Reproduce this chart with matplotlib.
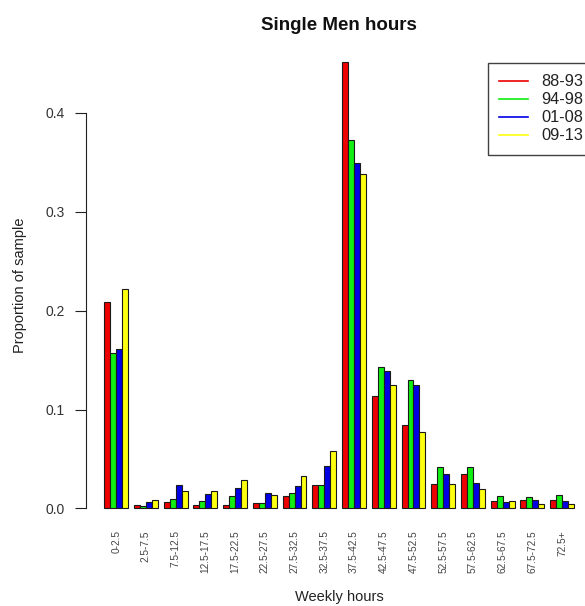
import matplotlib
matplotlib.use("Agg")
import matplotlib.pyplot as plt
from matplotlib.lines import Line2D

plt.rcParams['font.family'] = ['Liberation Sans', 'DejaVu Sans']

# Hour bands and sample proportions per period
categories = ["0-2.5", "2.5-7.5", "7.5-12.5", "12.5-17.5", "17.5-22.5", "22.5-27.5",
              "27.5-32.5", "32.5-37.5", "37.5-42.5", "42.5-47.5", "47.5-52.5",
              "52.5-57.5", "57.5-62.5", "62.5-67.5", "67.5-72.5", "72.5+"]
periods = ["88-93", "94-98", "01-08", "09-13"]
p88_93 = [0.209, 0.003, 0.007, 0.004, 0.004, 0.006, 0.013, 0.024, 0.451, 0.114, 0.084,
          0.025, 0.035, 0.008, 0.009, 0.009]
p94_98 = [0.157, 0.002, 0.010, 0.008, 0.013, 0.006, 0.016, 0.024, 0.373, 0.143, 0.130,
          0.042, 0.042, 0.013, 0.012, 0.014]
p01_08 = [0.161, 0.007, 0.024, 0.015, 0.021, 0.016, 0.023, 0.043, 0.349, 0.139, 0.125,
          0.035, 0.026, 0.007, 0.009, 0.008]
p09_13 = [0.222, 0.009, 0.018, 0.018, 0.029, 0.014, 0.033, 0.058, 0.338, 0.125, 0.077,
          0.025, 0.020, 0.008, 0.005, 0.005]
yticks = [0.0, 0.1, 0.2, 0.3, 0.4]

series = [p88_93, p94_98, p01_08, p09_13]
colors = ["#EE0000", "#11EE11", "#0000E6", "#FFFF10"]

W, H = 585, 606
fig = plt.figure(figsize=(W / 100, H / 100), dpi=100)
fig.patch.set_facecolor("white")

# plotting region in pixels (left, right, top, bottom)
pl, pr, pt, pb = 85.5, 592.8, 44.6, 526.3
ax = fig.add_axes([pl / W, (H - pb) / H, (pr - pl) / W, (pb - pt) / H])

n_groups = len(categories)
n_series = len(series)
step = n_series + 1
for j, vals in enumerate(series):
    xs = [1 + step * i + j + 0.5 for i in range(n_groups)]
    ax.bar(xs, vals, width=1.0, color=colors[j], edgecolor="#1a1a1a",
           linewidth=0.8, align="center")

x_lo, x_hi = 1, step * n_groups
ext = 0.04 * (x_hi - x_lo)
ax.set_xlim(x_lo - ext, x_hi + ext)
ymax = max(max(s) for s in series)
ax.set_ylim(-0.04 * ymax, ymax * 1.04)

for side in ["top", "right", "bottom"]:
    ax.spines[side].set_visible(False)
ax.spines["left"].set_bounds(yticks[0], yticks[-1])
ax.spines["left"].set_linewidth(0.8)
ax.spines["left"].set_color("#222222")

ax.set_yticks(yticks)
ax.set_yticklabels([f"{v:.1f}" for v in yticks])
ax.tick_params(axis="y", length=7.9, width=0.8, color="#222222", pad=7,
               labelsize=10, labelcolor="#333333")

centers = [1 + step * i + n_series / 2 for i in range(n_groups)]
ax.set_xticks(centers)
ax.set_xticklabels(categories, rotation=90, fontsize=7.3, color="#444444")
ax.tick_params(axis="x", length=0, pad=3)

ax.set_xlabel("Weekly hours", fontsize=10.5, color="#222222")
ax.xaxis.set_label_coords(0.5, -(597 - pb) / (pb - pt))
ax.xaxis.label.set_va("center")
ax.set_ylabel("Proportion of sample", fontsize=10.5, color="#222222")
ax.yaxis.set_label_coords(-(pl - 20) / (pr - pl), 0.5)
ax.yaxis.label.set_va("center")

fig.text(339 / W, 1 - 25 / H, "Single Men hours", ha="center", va="center",
         fontsize=13.5, fontweight="bold", color="#111111")

handles = [Line2D([0], [0], color=c, linewidth=1.2) for c in colors]
leg = ax.legend(handles, periods, loc="upper left",
                bbox_to_anchor=(488 / W, 1 - 63 / H), bbox_transform=fig.transFigure,
                fontsize=11.8, frameon=True, fancybox=False, borderpad=0.7,
                handlelength=1.75, handletextpad=0.8, labelspacing=0.18,
                borderaxespad=0)
leg.get_frame().set_edgecolor("#111111")
leg.get_frame().set_linewidth(1.0)
for t in leg.get_texts():
    t.set_color("#222222")

fig.savefig("out.png", dpi=100, facecolor="white")
